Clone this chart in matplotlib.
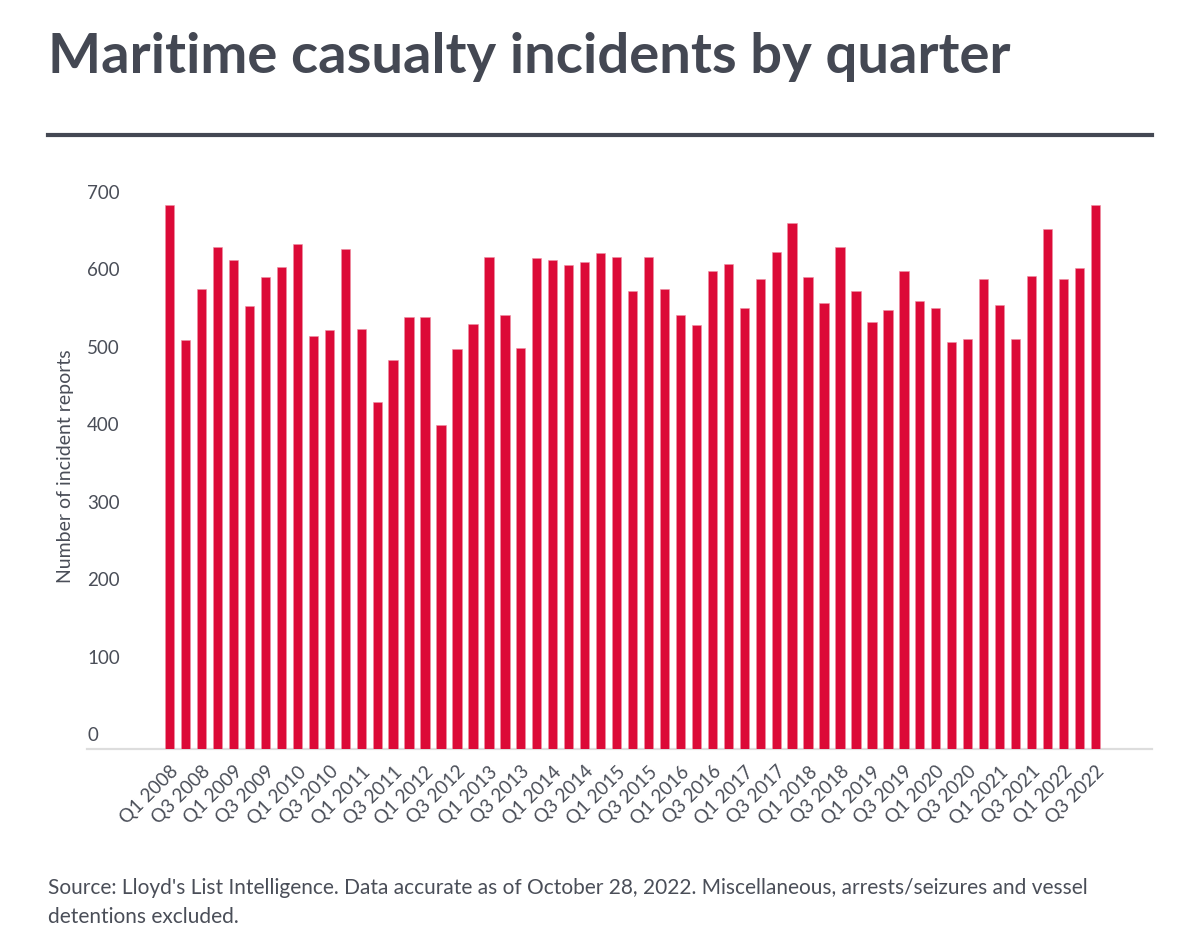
""" Maritime casualty incidents by quarter
"""

import matplotlib
matplotlib.use('Agg')
import matplotlib.pyplot as plt
import matplotlib.transforms as mtransforms

# Data
quarters = ['Q%d %d' % (q, y) for y in range(2008, 2023) for q in range(1, 5)][:59]
incidents = [
    702, 528, 594, 648, 631, 572, 610, 623, 652, 534, 541, 646,   # 2008-2010
    542, 448, 503, 558, 558, 418, 516, 549, 635, 561, 518, 634,   # 2011-2013
    631, 625, 629, 640, 635, 592, 635, 594, 561, 548, 617, 627,   # 2014-2016
    569, 607, 642, 679, 609, 576, 648, 592, 551, 567, 617, 578,   # 2017-2019
    569, 526, 530, 607, 573, 530, 611, 671, 607, 621, 702,        # 2020-2022
]
y_ticks = [0, 100, 200, 300, 400, 500, 600, 700]

TITLE = 'Maritime casualty incidents by quarter'
YLABEL = 'Number of incident reports'
SOURCE_LINES = ["Source: Lloyd's List Intelligence. Data accurate as of October 28, 2022. "
                "Miscellaneous, arrests/seizures and vessel",
                "detentions excluded."]

BAR_RED = '#dc0a37'
DARK = '#444853'
GREY = '#4a4e58'


def main():
    plt.rcParams['font.family'] = ['Lato', 'DejaVu Sans']
    W, H = 1199, 952
    fig = plt.figure(figsize=(W / 100, H / 100), dpi=100)

    # axes placed in pixels: x 87..1152, y baseline at 749
    left, right = 87, 1152
    base, top = 749, 749 - 720 * 0.7743
    ax = fig.add_axes([left / W, (H - base) / H, (right - left) / W, (base - top) / H])

    x = list(range(len(incidents)))
    ax.bar(x, incidents, width=0.585, color=BAR_RED, edgecolor='#ee8fa3', linewidth=0.4)
    ax.set_xlim((left - 169.7) / 15.96, (right - 169.7) / 15.96)
    ax.set_ylim(0, 720)

    for s in ax.spines.values():
        s.set_visible(False)
    ax.axhline(0, color='#dddddd', linewidth=1.6, clip_on=False, zorder=0)

    # x tick labels every second quarter
    ax.set_xticks(x[::2])
    ax.set_xticklabels(quarters[::2], rotation=45, ha='right', rotation_mode='anchor',
                       fontsize=13.5, color=GREY)
    ax.tick_params(axis='x', length=0, pad=10)

    # y labels sit just above their value, left aligned
    ax.set_yticks([])
    up = mtransforms.offset_copy(ax.get_yaxis_transform(), fig=fig, x=0, y=5, units='dots')
    for v in y_ticks:
        ax.text(0, v, str(v), transform=up, ha='left', va='bottom', fontsize=13.5, color=GREY)
    fig.text(65 / W, 1 - 466 / H, YLABEL, rotation=90, ha='center', va='center',
             fontsize=14, color=GREY)

    # title, rule and source note
    fig.text(48 / W, 1 - 73 / H, TITLE, ha='left', va='baseline', fontsize=40.5,
             fontweight='bold', color=DARK)
    fig.add_artist(plt.Line2D([48 / W, 1152 / W], [1 - 134.7 / H] * 2, color=DARK,
                              linewidth=3, transform=fig.transFigure))
    for i, line in enumerate(SOURCE_LINES):
        fig.text(48 / W, 1 - (894 + 29 * i) / H, line, ha='left', va='baseline',
                 fontsize=15, color=GREY)

    fig.savefig('out.png', dpi=100)


if __name__ == '__main__':
    main()
